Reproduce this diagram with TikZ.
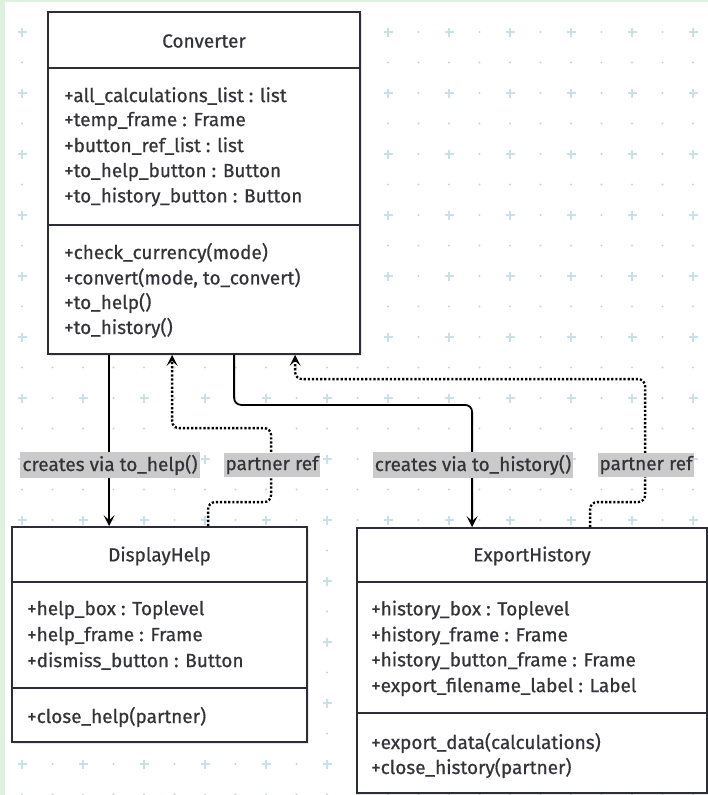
\documentclass[tikz,border=0pt]{standalone}
\usepackage{fontspec}
\setmainfont{Fira Sans}[FakeBold=0.6]
\usetikzlibrary{arrows.meta,shadows,calc}
\definecolor{edgecol}{RGB}{45,45,56}
\definecolor{txtcol}{RGB}{51,51,58}
\definecolor{lblbg}{RGB}{202,202,202}
\definecolor{pluscol}{RGB}{200,224,230}
\definecolor{dotcol}{RGB}{205,210,212}
\definecolor{framegreen}{RGB}{222,240,222}
\tikzset{
  umlbox/.style={draw=edgecol, line width=1.8pt, fill=white, inner sep=0pt, rectangle,
    drop shadow={shadow xshift=1.5pt, shadow yshift=-2pt, opacity=0.18}},
  divider/.style={draw=edgecol, line width=1.8pt},
  member/.style={anchor=west, inner sep=0pt, text=txtcol, font=\fontsize{19}{22}\selectfont},
  title/.style={inner sep=0pt, text=txtcol, font=\fontsize{19}{22}\selectfont},
  lbl/.style={fill=lblbg, text=txtcol, inner xsep=2pt, inner ysep=2.5pt, font=\fontsize{19}{22}\selectfont},
  solidarr/.style={draw=black, line width=1.8pt, rounded corners=7pt, -{Stealth[length=11pt,width=11pt,inset=5pt]}},
  dotarr/.style={draw=black, line width=2.3pt, dash pattern=on 2.2pt off 1.9pt, rounded corners=7pt, -{Stealth[length=11pt,width=11pt,inset=5pt]}},
}
\begin{document}
\begin{tikzpicture}[x=1pt,y=1pt]
\useasboundingbox (0,0) rectangle (708,-795);
\fill[white] (0,0) rectangle (708,-795);
\fill[framegreen] (0,0) rectangle (5,-795);
\fill[framegreen] (0,0) rectangle (708,-2);
% background grid
\foreach \i in {0,...,23}{
  \foreach \j in {0,...,25}{
    \pgfmathsetmacro{\xx}{22+30.5*\i}
    \pgfmathsetmacro{\yy}{-32-30.5*\j}
    \pgfmathtruncatemacro{\ie}{mod(\i,2)}
    \pgfmathtruncatemacro{\je}{mod(\j,2)}
    \ifnum\ie=0 \ifnum\je=0
      \draw[pluscol, line width=1.1pt] (\xx-4.5,\yy) -- (\xx+4.5,\yy) (\xx,\yy-4.5) -- (\xx,\yy+4.5);
    \else
      \fill[dotcol] (\xx,\yy) circle (1.1);
    \fi\else
      \fill[dotcol] (\xx,\yy) circle (1.1);
    \fi
  }
}
% Converter
\node[umlbox, minimum width=312pt, minimum height=342pt] (conv) at (204,-183) {};
\draw[divider] (48,-68) -- (360,-68);
\draw[divider] (48,-225) -- (360,-225);
\node[title] (convt) at (204,-41) {Converter};
\node[member] (ca1) at (64,-96) {+all\_calculations\_list : list};
\node[member] (ca2) at (64,-121) {+temp\_frame : Frame};
\node[member] (ca3) at (64,-146) {+button\_ref\_list : list};
\node[member] (ca4) at (64,-172) {+to\_help\_button : Button};
\node[member] (ca5) at (64,-197) {+to\_history\_button : Button};
\node[member] (cm1) at (64,-253) {+check\_currency(mode)};
\node[member] (cm2) at (64,-278) {+convert(mode, to\_convert)};
\node[member] (cm3) at (64,-303) {+to\_help()};
\node[member] (cm4) at (64,-328) {+to\_history()};
% DisplayHelp
\node[umlbox, minimum width=295pt, minimum height=215pt] (help) at (159.5,-634.5) {};
\draw[divider] (12,-582) -- (307,-582);
\draw[divider] (12,-688) -- (307,-688);
\node[title] (helpt) at (159.5,-556) {DisplayHelp};
\node[member] (ha1) at (27,-610) {+help\_box : Toplevel};
\node[member] (ha2) at (27,-636) {+help\_frame : Frame};
\node[member] (ha3) at (27,-661) {+dismiss\_button : Button};
\node[member] (hm1) at (27,-717) {+close\_help(partner)};
% ExportHistory
\node[umlbox, minimum width=350pt, minimum height=265pt] (hist) at (532,-660.5) {};
\draw[divider] (357,-582) -- (707,-582);
\draw[divider] (357,-713) -- (707,-713);
\node[title] (histt) at (532,-556) {ExportHistory};
\node[member] (xa1) at (371,-610) {+history\_box : Toplevel};
\node[member] (xa2) at (371,-636) {+history\_frame : Frame};
\node[member] (xa3) at (371,-661) {+history\_button\_frame : Frame};
\node[member] (xa4) at (371,-687) {+export\_filename\_label : Label};
\node[member] (xm1) at (371,-743) {+export\_data(calculations)};
\node[member] (xm2) at (371,-768) {+close\_history(partner)};
% connectors
\draw[solidarr] ([xshift=62pt]conv.south west) -- ([xshift=98pt]help.north west);
\draw[dotarr] ([xshift=197pt]help.north west) -- ++(0,24) -| ++(63,74) -| ([xshift=125pt]conv.south west);
\draw[solidarr] ([xshift=187pt]conv.south west) -- ++(0,-50) -| ([xshift=116pt]hist.north west);
\draw[dotarr] ([xshift=234pt]hist.north west) -- ++(0,25) -| ++(55,123) -| ([xshift=248pt]conv.south west);
% labels
\node[lbl] (l1) at (110,-465) {creates via to\_help()};
\node[lbl] (l2) at (272,-465) {partner ref};
\node[lbl] (l3) at (473,-465) {creates via to\_history()};
\node[lbl] (l4) at (646,-465) {partner ref};
\end{tikzpicture}
\end{document}
